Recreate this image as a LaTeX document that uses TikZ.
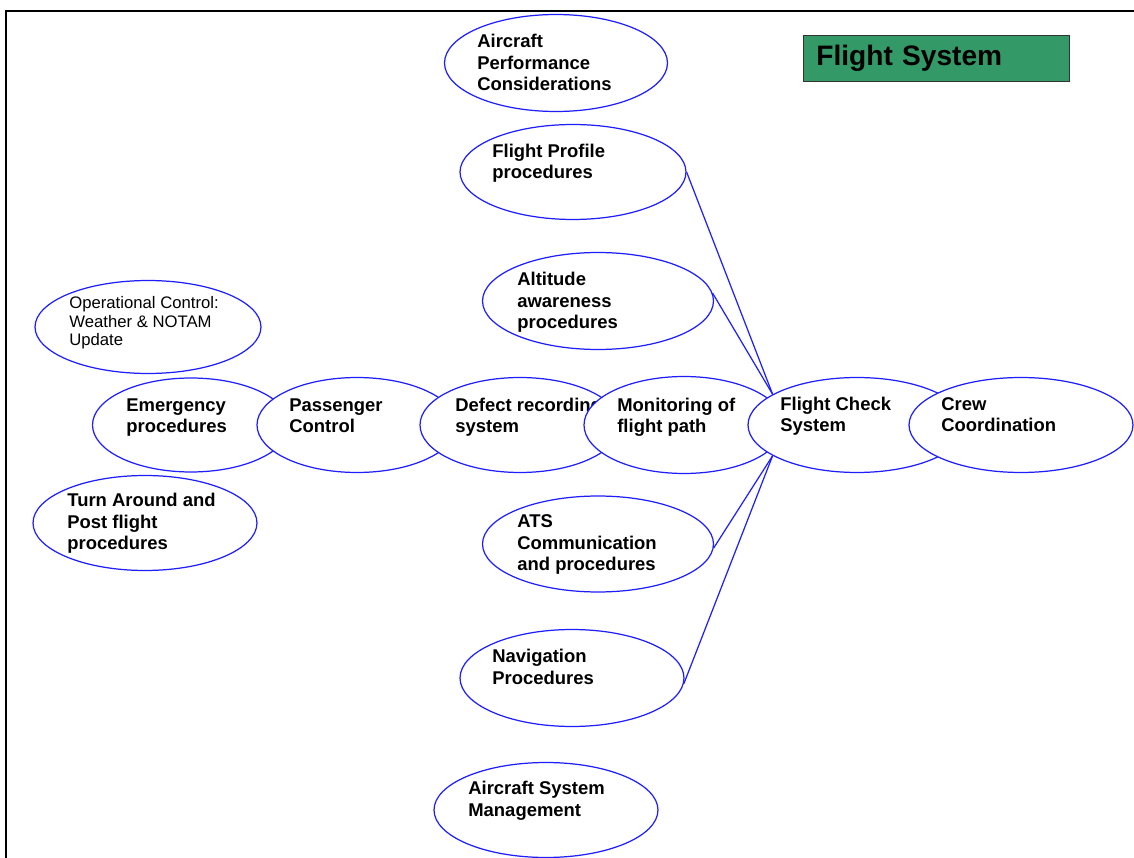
\documentclass[tikz,border=0pt]{standalone}
\usepackage{fontspec}
\setmainfont{Liberation Sans}
\usetikzlibrary{shapes}
\definecolor{boxgreen}{RGB}{51,153,102}
\definecolor{ovalblue}{RGB}{30,30,255}

\begin{document}
\begin{tikzpicture}[x=0.02cm,y=-0.02cm,
  oval/.style={ellipse,draw=ovalblue,fill=white,line width=0.7pt,inner sep=0pt,minimum width=4.48cm,minimum height=1.92cm},
  lbl/.style={anchor=base west,align=left,inner sep=0pt,font=\fontsize{10.5}{12.5}\selectfont\bfseries},
  note/.style={anchor=base west,align=left,inner sep=0pt,font=\fontsize{9.5}{10.8}\selectfont},
  spoke/.style={draw=ovalblue,line width=0.7pt}]
\useasboundingbox (0,0) rectangle (1134,858);
\draw[line width=1.1pt] (1134,11) -- (6,11) -- (6,858);

\node [draw=black!80,fill=boxgreen,anchor=north west,minimum height=0.92cm,text width=4.8cm,inner xsep=0.26cm,align=left,font=\fontsize{16}{18}\selectfont\bfseries] (title) at (803,35) {Flight System};

\node [oval,minimum width=4.46cm,minimum height=1.94cm] (apc) at (556,63) {};
\node [lbl] (apc-t) at (477,91) {Aircraft\\Performance\\Considerations};
\node [oval,minimum width=4.52cm,minimum height=1.9cm] (fpp) at (573,172) {};
\node [lbl] (fpp-t) at (492,179) {Flight Profile\\procedures};
\node [oval,minimum width=4.62cm,minimum height=1.94cm] (alt) at (598,301) {};
\node [lbl] (alt-t) at (517,329) {Altitude\\awareness\\procedures};
\node [oval,minimum width=4.52cm,minimum height=1.86cm] (opc) at (148,327) {};
\node [note] (opc-t) at (69,346) {Operational Control:\\Weather \& NOTAM\\Update};

\node [oval,minimum width=3.94cm,minimum height=1.88cm] (emg) at (191,425) {};
\node [lbl] (emg-t) at (126,433) {Emergency\\procedures};
\node [oval,minimum width=4cm,minimum height=1.9cm] (pax) at (357,425) {};
\node [lbl] (pax-t) at (289,433) {Passenger\\Control};
\node [oval,minimum width=4cm,minimum height=1.9cm] (drs) at (520,425) {};
\node [lbl] (drs-t) at (455,433) {Defect recording\\system};
\node [oval,minimum width=4cm,minimum height=1.94cm] (mfp) at (684,425) {};
\node [lbl] (mfp-t) at (617,433) {Monitoring of\\flight path};
\node [oval,minimum width=4.36cm,minimum height=1.9cm] (fcs) at (857,425) {};
\node [lbl] (fcs-t) at (780,432) {Flight Check\\System};
\node [oval,minimum width=4.48cm,minimum height=1.9cm] (crew) at (1021,425) {};
\node [lbl] (crew-t) at (941,432) {Crew\\Coordination};

\node [oval,minimum width=4.48cm,minimum height=1.9cm] (tap) at (145,523) {};
\node [lbl] (tap-t) at (67,550) {Turn Around and\\Post flight\\procedures};
\node [oval,minimum width=4.62cm,minimum height=1.92cm] (ats) at (598,544) {};
\node [lbl] (ats-t) at (517,571) {ATS\\Communication\\and procedures};
\node [oval,minimum width=4.48cm,minimum height=1.94cm] (nav) at (572,678) {};
\node [lbl] (nav-t) at (492,684) {Navigation\\Procedures};
\node [oval,minimum width=4.48cm,minimum height=1.9cm] (asm) at (546,810) {};
\node [lbl] (asm-t) at (468,816) {Aircraft System\\Management};

\draw[spoke] (fcs.160) -- (fpp.east);
\draw[spoke] (fcs.160) -- (alt.4);
\draw[spoke] (fcs.200) -- (ats.-2);
\draw[spoke] (fcs.200) -- (nav.-3);
\end{tikzpicture}
\end{document}
